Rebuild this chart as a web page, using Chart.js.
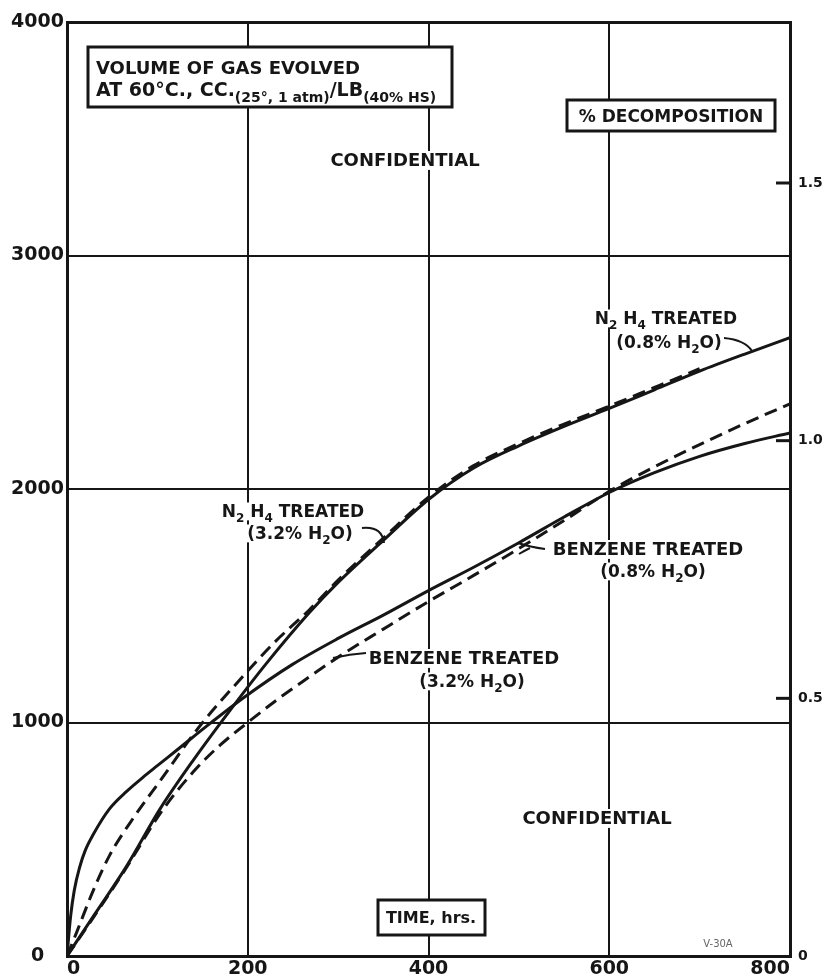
<!DOCTYPE html>
<html>
<head>
<meta charset="utf-8">
<script src="https://cdn.jsdelivr.net/npm/chart.js@4.4.1/dist/chart.umd.min.js"></script>
<style>
  html, body { margin: 0; padding: 0; background: #fff; }
  canvas { display: block; }
</style>
</head>
<body>
<canvas id="gasChart" width="827" height="980"></canvas>
<script>
// Volume of gas evolved at 60 °C (cc per lb) against storage time (hours)

// N2H4 treated, 0.8 % H2O (solid)
const n2h4DryHours = [0, 30, 66, 103, 140, 180, 220, 268, 300, 350, 400, 450, 500, 550, 600, 650, 700, 750, 800];
const n2h4DryGas   = [0, 175, 385, 630, 840, 1050, 1250, 1470, 1600, 1780, 1955, 2090, 2185, 2268, 2345, 2425, 2505, 2578, 2648];

// N2H4 treated, 3.2 % H2O (dashed)
const n2h4WetHours = [0, 10, 29, 47, 75, 103, 147, 194, 230, 268, 300, 350, 400, 450, 500, 550, 600, 650, 700];
const n2h4WetGas   = [0, 95, 280, 430, 600, 750, 985, 1195, 1345, 1482, 1610, 1790, 1965, 2100, 2195, 2278, 2355, 2435, 2515];

// Benzene treated, 0.8 % H2O (solid)
const benzDryHours = [0, 4, 8, 14, 20, 29, 47, 66, 84, 100, 121, 158, 195, 250, 300, 350, 400, 450, 500, 550, 600, 650, 700, 750, 800];
const benzDryGas   = [0, 170, 280, 380, 450, 520, 630, 705, 765, 815, 880, 995, 1105, 1250, 1360, 1460, 1565, 1665, 1770, 1880, 1985, 2070, 2140, 2195, 2240];

// Benzene treated, 3.2 % H2O (dashed)
const benzWetHours = [0, 30, 66, 103, 140, 170, 200, 235, 268, 300, 350, 400, 450, 500, 550, 600, 650, 700, 750, 800];
const benzWetGas   = [0, 170, 380, 610, 790, 905, 1000, 1105, 1195, 1280, 1400, 1518, 1630, 1745, 1865, 1990, 2095, 2190, 2280, 2365];

// Axis ticks
const timeTicks   = [0, 200, 400, 600, 800];
const gasTicks    = [0, 1000, 2000, 3000, 4000];
const decompTicks = [0, 0.5, 1.0, 1.5];
const ccPerPercent = 2207;   // cc/lb corresponding to 1 % decomposition

const ink = '#161616';
const face = '"DejaVu Sans", "Liberation Sans", sans-serif';

function points(hours, gas) {
  return hours.map((h, i) => ({ x: h, y: gas[i] }));
}

function curve(label, hours, gas, dashed) {
  return {
    label,
    data: points(hours, gas),
    showLine: true,
    borderColor: ink,
    backgroundColor: ink,
    borderWidth: 3,
    borderDash: dashed ? [13, 7] : [],
    pointRadius: 0,
    pointHoverRadius: 0,
    cubicInterpolationMode: 'monotone',
    fill: false
  };
}

function fonts(size, subRatio) {
  return {
    main: `bold ${size}px ${face}`,
    sub: `bold ${Math.round(size * (subRatio || 0.68))}px ${face}`
  };
}

function measureRich(ctx, parts, size, subRatio) {
  const f = fonts(size, subRatio);
  let total = 0;
  parts.forEach(([t, s]) => { ctx.font = s ? f.sub : f.main; total += ctx.measureText(t).width; });
  return total;
}

// Text with subscripts; parts = [[text, isSub], ...]; y is the baseline
function richText(ctx, x, y, parts, size, align, subRatio) {
  const f = fonts(size, subRatio);
  const total = measureRich(ctx, parts, size, subRatio);
  let cx = align === 'center' ? x - total / 2 : x;
  parts.forEach(([t, s]) => {
    ctx.font = s ? f.sub : f.main;
    ctx.fillText(t, cx, y + (s ? size * 0.3 : 0));
    cx += ctx.measureText(t).width;
  });
}

// Label centred at (x, yMid) on a white patch
function patchLabel(ctx, x, yMid, parts, size) {
  const w = measureRich(ctx, parts, size);
  ctx.fillStyle = '#fff';
  ctx.fillRect(x - w / 2 - 3, yMid - size * 0.5, w + 6, size * 1.05);
  ctx.fillStyle = ink;
  richText(ctx, x, yMid + size * 0.36, parts, size, 'center');
}

function framedBox(ctx, x1, y1, x2, y2) {
  ctx.fillStyle = '#fff';
  ctx.fillRect(x1, y1, x2 - x1, y2 - y1);
  ctx.strokeStyle = ink;
  ctx.lineWidth = 3;
  ctx.strokeRect(x1, y1, x2 - x1, y2 - y1);
}

function leader(ctx, x1, y1, cx, cy, x2, y2) {
  ctx.beginPath();
  ctx.moveTo(x1, y1);
  ctx.quadraticCurveTo(cx, cy, x2, y2);
  ctx.strokeStyle = ink;
  ctx.lineWidth = 2;
  ctx.stroke();
}

const overlay = {
  id: 'overlay',
  afterDatasetsDraw(chart) {
    const ctx = chart.ctx;
    const area = chart.chartArea;
    const pct = chart.scales.yPct;
    ctx.save();
    ctx.textBaseline = 'alphabetic';
    ctx.textAlign = 'left';

    // inward tick marks of the % decomposition scale
    ctx.strokeStyle = ink;
    ctx.lineWidth = 3;
    decompTicks.filter(v => v > 0).forEach(v => {
      const y = pct.getPixelForValue(v);
      ctx.beginPath();
      ctx.moveTo(area.right - 14, y);
      ctx.lineTo(area.right, y);
      ctx.stroke();
    });

    // ordinate title box
    framedBox(ctx, 88, 47, 452, 107);
    ctx.fillStyle = ink;
    richText(ctx, 96, 74, [['VOLUME OF GAS EVOLVED', false]], 18, 'left');
    richText(ctx, 96, 96, [
      ['AT 60°C., CC.', false], ['(25°, 1 atm)', true], ['/', false],
      ['LB', false], ['(40% HS)', true]
    ], 19, 'left', 0.76);

    // right-hand scale title box
    framedBox(ctx, 567, 100, 775, 131);
    ctx.fillStyle = ink;
    richText(ctx, 671, 122, [['% DECOMPOSITION', false]], 17, 'center');

    // abscissa title box
    framedBox(ctx, 378, 900, 485, 935);
    ctx.fillStyle = ink;
    richText(ctx, 431, 923, [['TIME, hrs.', false]], 16, 'center');

    // security markings
    patchLabel(ctx, 405, 160, [['CONFIDENTIAL', false]], 18);
    patchLabel(ctx, 597, 818, [['CONFIDENTIAL', false]], 18);

    // curve labels
    patchLabel(ctx, 666, 318, [['N', false], ['2', true], [' H', false], ['4', true], [' TREATED', false]], 17);
    patchLabel(ctx, 669, 342, [['(0.8% H', false], ['2', true], ['O)', false]], 17);
    leader(ctx, 724, 338, 745, 340, 752, 351);

    patchLabel(ctx, 293, 511, [['N', false], ['2', true], [' H', false], ['4', true], [' TREATED', false]], 17);
    patchLabel(ctx, 300, 533, [['(3.2% H', false], ['2', true], ['O)', false]], 17);
    leader(ctx, 362, 528, 382, 526, 384, 543);

    patchLabel(ctx, 648, 549, [['BENZENE TREATED', false]], 18);
    patchLabel(ctx, 653, 571, [['(0.8% H', false], ['2', true], ['O)', false]], 17);
    leader(ctx, 545, 549, 530, 547, 518, 543);
    leader(ctx, 530, 548, 524, 551, 519, 554);

    patchLabel(ctx, 464, 658, [['BENZENE TREATED', false]], 18);
    patchLabel(ctx, 472, 681, [['(3.2% H', false], ['2', true], ['O)', false]], 17);
    leader(ctx, 366, 653, 350, 654, 333, 658);

    // drawing number
    ctx.font = `10px ${face}`;
    ctx.fillStyle = '#666';
    ctx.textAlign = 'center';
    ctx.fillText('V-30A', 718, 947);

    ctx.restore();
  }
};

new Chart(document.getElementById('gasChart'), {
  type: 'scatter',
  data: {
    datasets: [
      curve('N2H4 treated (0.8% H2O)', n2h4DryHours, n2h4DryGas, false),
      curve('N2H4 treated (3.2% H2O)', n2h4WetHours, n2h4WetGas, true),
      curve('Benzene treated (0.8% H2O)', benzDryHours, benzDryGas, false),
      curve('Benzene treated (3.2% H2O)', benzWetHours, benzWetGas, true)
    ]
  },
  options: {
    responsive: false,
    animation: false,
    events: [],
    layout: { padding: { top: 22, left: 0, right: 0, bottom: 0 } },
    plugins: {
      legend: { display: false },
      tooltip: { enabled: false },
      title: { display: false }
    },
    scales: {
      x: {
        type: 'linear',
        position: 'bottom',
        min: 0,
        max: 800,
        afterBuildTicks: s => { s.ticks = timeTicks.map(v => ({ value: v })); },
        afterFit: s => { s.height = 24; },
        ticks: {
          align: 'inner',
          maxRotation: 0,
          padding: 2,
          color: ink,
          font: { family: face, size: 19, weight: 'bold' },
          callback: v => String(v)
        },
        grid: {
          color: ink,
          lineWidth: c => (c.tick && (c.tick.value === 0 || c.tick.value === 800)) ? 3 : 2,
          drawTicks: false
        },
        border: { display: true, color: ink, width: 3 }
      },
      y: {
        type: 'linear',
        position: 'left',
        min: 0,
        max: 4000,
        afterBuildTicks: s => { s.ticks = gasTicks.map(v => ({ value: v })); },
        afterFit: s => { s.width = 67; },
        ticks: {
          crossAlign: 'center',
          padding: 3,
          color: ink,
          font: { family: face, size: 19, weight: 'bold' },
          callback: v => String(v)
        },
        grid: {
          color: ink,
          lineWidth: c => (c.tick && (c.tick.value === 0 || c.tick.value === 4000)) ? 3 : 2,
          drawTicks: false
        },
        border: { display: true, color: ink, width: 3 }
      },
      yPct: {
        type: 'linear',
        position: 'right',
        min: 0,
        max: 4000 / ccPerPercent,
        afterBuildTicks: s => { s.ticks = decompTicks.map(v => ({ value: v })); },
        afterFit: s => { s.width = 37; },
        ticks: {
          padding: 8,
          color: ink,
          font: { family: face, size: 14, weight: 'bold' },
          callback: v => (v === 0 ? '0' : v.toFixed(1))
        },
        grid: { display: false, drawTicks: false },
        border: { display: true, color: ink, width: 3 }
      }
    }
  },
  plugins: [overlay]
});
</script>
</body>
</html>
